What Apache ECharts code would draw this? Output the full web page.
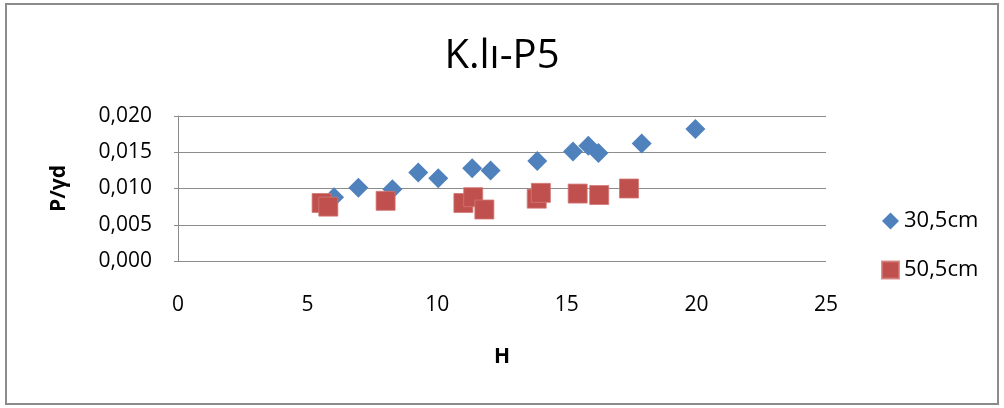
<!DOCTYPE html>
<html>
<head>
<meta charset="utf-8">
<script src="https://cdn.jsdelivr.net/npm/echarts@6/dist/echarts.min.js"></script>
<style>
html,body{margin:0;padding:0;background:#fff;}
#c{width:1004px;height:408px;}
</style>
</head>
<body>
<div id="c"></div>
<script>
const titleText = "K.lı-P5";
const seriesNames = ["30,5cm", "50,5cm"];
const xTicks = [0, 5, 10, 15, 20, 25];
const yTicks = [0, 0.005, 0.010, 0.015, 0.020];

const h305 = [6.02, 6.96, 8.27, 9.27, 10.04, 11.35, 12.06, 13.86, 15.24, 15.83, 16.22, 17.89, 19.96];
const p305 = [0.0088, 0.0101, 0.0099, 0.0122, 0.0114, 0.0128, 0.0125, 0.0138, 0.0151, 0.0159, 0.0149, 0.0162, 0.0182];
const h505 = [5.54, 5.80, 8.01, 11.01, 11.39, 11.82, 13.84, 14.00, 15.42, 16.25, 17.40];
const p505 = [0.0080, 0.0075, 0.0083, 0.0080, 0.0088, 0.0071, 0.0086, 0.0094, 0.0093, 0.0091, 0.0100];

const pair = (xs, ys) => xs.map((x, i) => [x, ys[i]]);
const FONT = "Open Sans";

const chart = echarts.init(document.getElementById('c'), null, {renderer: 'canvas'});
chart.setOption({
  animation: false,
  backgroundColor: '#ffffff',
  textStyle: {fontFamily: FONT},
  graphic: [{
    type: 'rect', silent: true, z: -1,
    shape: {x: 6, y: 4, width: 992, height: 400},
    style: {fill: 'none', stroke: '#8c8c8c', lineWidth: 2}
  }],
  title: {
    text: titleText, left: 'center', top: 32,
    textStyle: {fontFamily: FONT, fontSize: 40, fontWeight: 'normal', color: '#000'}
  },
  legend: {
    orient: 'vertical', left: 881, top: 210, padding: 0,
    itemWidth: 17, itemHeight: 17, itemGap: 27,
    textStyle: {fontFamily: FONT, fontSize: 22, color: '#000'},
    data: [
      {name: seriesNames[0], icon: 'diamond'},
      {name: seriesNames[1], icon: 'rect'}
    ]
  },
  grid: {left: 178, top: 116, width: 648, height: 145, containLabel: false},
  xAxis: {
    type: 'value', min: xTicks[0], max: xTicks[xTicks.length-1], interval: 5,
    name: 'H', nameLocation: 'middle', nameGap: 86,
    nameTextStyle: {fontFamily: FONT, fontSize: 21, fontWeight: 'bold', color: '#000'},
    axisLine: {show: false},
    axisTick: {show: false},
    splitLine: {show: false},
    axisLabel: {margin: 34, fontFamily: FONT, fontSize: 21, color: '#000'}
  },
  yAxis: {
    type: 'value', min: yTicks[0], max: yTicks[yTicks.length-1], interval: 0.005,
    name: 'P/γd', nameLocation: 'middle', nameGap: 108, nameRotate: 90,
    nameTextStyle: {fontFamily: FONT, fontSize: 21, fontWeight: 'bold', color: '#000'},
    axisLine: {show: true, lineStyle: {color: '#8c8c8c', width: 1}},
    axisTick: {show: true, inside: false, length: 4, lineStyle: {color: '#8c8c8c'}},
    splitLine: {show: true, lineStyle: {color: '#8c8c8c', width: 1}},
    axisLabel: {
      margin: 26, fontFamily: FONT, fontSize: 21, color: '#000',
      formatter: v => v.toFixed(3).replace('.', ',')
    }
  },
  series: [
    {
      name: seriesNames[0], type: 'scatter', symbol: 'diamond', symbolSize: 20,
      itemStyle: {color: '#4F81BD', opacity: 1},
      data: pair(h305, p305)
    },
    {
      name: seriesNames[1], type: 'scatter', symbol: 'rect', symbolSize: 19,
      itemStyle: {color: '#C0504D', borderColor: 'rgba(210,120,117,0.8)', borderWidth: 1, opacity: 1},
      data: pair(h505, p505)
    }
  ]
});
</script>
</body>
</html>
